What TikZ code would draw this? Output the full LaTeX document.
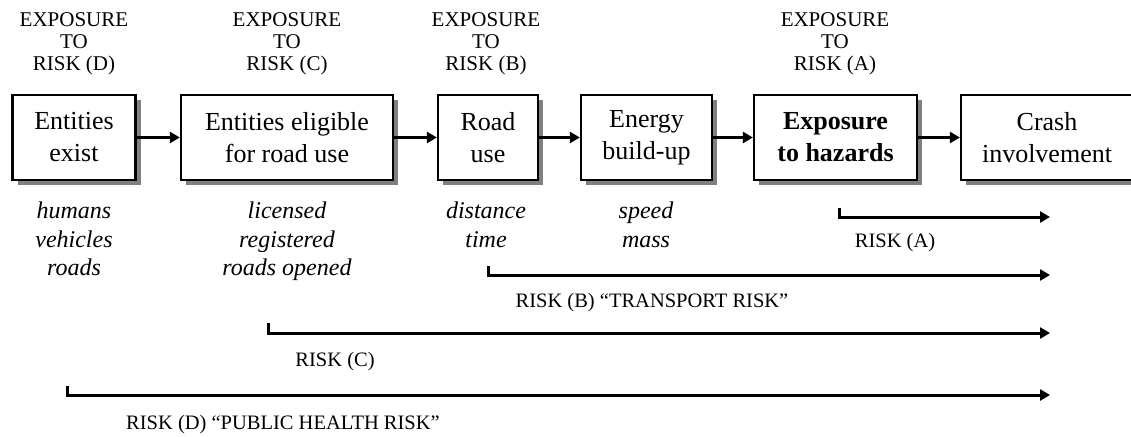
\documentclass[tikz,border=0pt]{standalone}
\usepackage{fontspec}
\setmainfont{Liberation Serif}
\usetikzlibrary{arrows.meta,shadows}
\begin{document}
\begin{tikzpicture}[x=1pt,y=-1pt,
  stage/.style={draw=black,line width=2.2pt,fill=white,inner sep=0pt,align=center,
    minimum height=85pt,font=\fontsize{26}{32}\selectfont,
    drop shadow={shadow xshift=5pt,shadow yshift=-5pt,fill=black!50,opacity=1}},
  toplabel/.style={align=center,inner sep=0pt,font=\fontsize{21}{22}\selectfont},
  example/.style={align=center,inner sep=0pt,anchor=north,font=\fontsize{24}{28.5}\selectfont\itshape},
  risklabel/.style={inner sep=0pt,font=\fontsize{20.5}{24}\selectfont},
  flow/.style={line width=3pt,-{Triangle[length=10pt,width=11pt]}},
  span/.style={line width=3pt,-{Triangle[length=10pt,width=11pt]}}
]
\useasboundingbox (0,0) rectangle (1131,436);
\begin{scope}
\clip (0,0) rectangle (1131,436);
% top labels
\node[toplabel] (tD) at (74,44) {EXPOSURE\\TO\\RISK (D)};
\node[toplabel] (tC) at (287,44) {EXPOSURE\\TO\\RISK (C)};
\node[toplabel] (tB) at (486,44) {EXPOSURE\\TO\\RISK (B)};
\node[toplabel] (tA) at (835,44) {EXPOSURE\\TO\\RISK (A)};
% boxes
\node[stage,minimum width=123pt] (b1) at (74,137.5) {Entities\\exist};
\node[stage,minimum width=212pt] (b2) at (287,137.5) {Entities eligible\\for road use};
\node[stage,minimum width=100pt] (b3) at (488,137.5) {Road\\use};
\node[stage,minimum width=131pt] (b4) at (646.5,137.5) {Energy\\build-up};
\node[stage,minimum width=163pt] (b5) at (835.5,137.5) {\bfseries Exposure\\\bfseries to hazards};
\node[stage,minimum width=180pt,text width=170pt] (b6) at (1051,137.5) {\hspace*{-8pt}Crash\\\hspace*{-8pt}involvement};
\draw[flow] (b1.east) -- (b2.west);
\draw[flow] (b2.east) -- (b3.west);
\draw[flow] (b3.east) -- (b4.west);
\draw[flow] (b4.east) -- (b5.west);
\draw[flow] (b5.east) -- (b6.west);
% examples
\node[example] (e1) at (74,202) {humans\\vehicles\\roads};
\node[example] (e2) at (287,202) {licensed\\registered\\roads opened};
\node[example] (e3) at (486,202) {distance\\time};
\node[example] (e4) at (646,202) {speed\\mass};
% risk spans
\coordinate (aS) at (839,208);
\coordinate (aE) at (1050,217);
\draw[span] (aS) |- (aE);
\node[risklabel] (rA) at (895,243) {RISK (A)};
\coordinate (bS) at (488,266);
\coordinate (bE) at (1050,275);
\draw[span] (bS) |- (bE);
\node[risklabel] (rB) at (652,303) {RISK (B) “TRANSPORT RISK”};
\coordinate (cS) at (268,323);
\coordinate (cE) at (1050,333);
\draw[span] (cS) |- (cE);
\node[risklabel] (rC) at (335,362) {RISK (C)};
\coordinate (dS) at (67,386);
\coordinate (dE) at (1050,395);
\draw[span] (dS) |- (dE);
\node[risklabel] (rD) at (283,425) {RISK (D) “PUBLIC HEALTH RISK”};
\end{scope}
\end{tikzpicture}
\end{document}
